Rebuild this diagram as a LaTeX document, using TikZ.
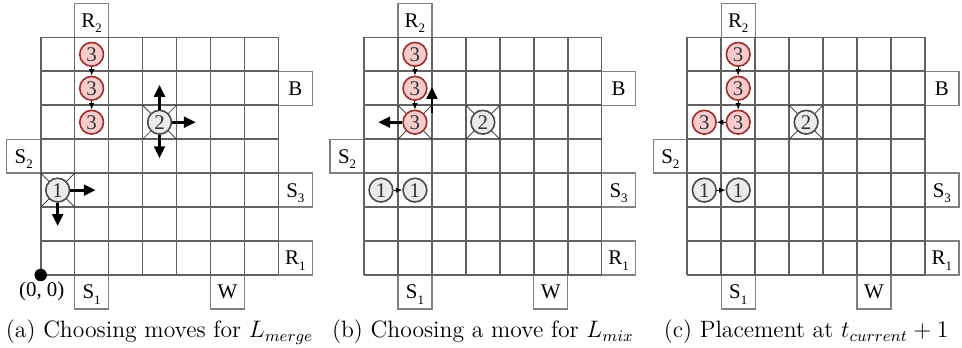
\documentclass[tikz,border=0pt]{standalone}
\usepackage{fontspec}
\newfontfamily\tms{Liberation Serif}
\usetikzlibrary{arrows.meta}
\definecolor{dropred}{HTML}{F8CCCC}
\definecolor{dropredline}{HTML}{9E2A2A}
\definecolor{dropgray}{HTML}{EBEBEB}
\definecolor{dropgrayline}{HTML}{4A4A4A}
\newcommand\lbl[2]{#1\raisebox{-2.8pt}{\fontsize{6.5}{6.5}\selectfont #2}}
\tikzset{
  gridline/.style={draw=black!62, line width=0.8pt},
  portbox/.style={draw=black!50, line width=0.65pt, minimum width=0.6cm, minimum height=0.6cm,
    inner sep=0pt, text depth=0pt, font=\tms\fontsize{10.5}{10.5}\selectfont},
  dropbase/.style={circle, line width=0.8pt, minimum size=0.42cm, inner sep=0pt,
    text=black!80, font=\tms\fontsize{10.5}{10.5}\selectfont},
  reddrop/.style={dropbase, draw=dropredline, fill=dropred},
  graydrop/.style={dropbase, draw=dropgrayline, fill=dropgray},
  thinarrow/.style={-{Latex[length=3.2pt,width=2.8pt]}, line width=0.5pt, draw=black},
  thickarrow/.style={-{Triangle[length=6pt,width=5.4pt]}, line width=1.4pt, draw=black},
  xmark/.style={draw=black!85, line width=0.35pt},
  captext/.style={anchor=base, font=\fontsize{11.9}{14}\selectfont},
}
\newcommand\board[1]{%
  \node[portbox] (#1R2) at (1.5,7.5) {\lbl{R}{2}};
  \node[portbox] (#1B)  at (7.5,5.5) {B};
  \node[portbox] (#1S2) at (-0.5,3.5) {\lbl{S}{2}};
  \node[portbox] (#1S3) at (7.5,2.5) {\lbl{S}{3}};
  \node[portbox] (#1R1) at (7.5,0.5) {\lbl{R}{1}};
  \node[portbox] (#1S1) at (1.5,-0.5) {\lbl{S}{1}};
  \node[portbox] (#1W)  at (5.5,-0.5) {W};
  \foreach \i in {0,...,7} {
    \draw[gridline] (\i,0) -- (\i,7);
    \draw[gridline] (0,\i) -- (7,\i);
  }
}
\begin{document}
\begin{tikzpicture}[x=0.6cm, y=0.6cm]
\useasboundingbox (-1.199,-2.150) rectangle (27.137,8.100);

% ---------- panel (a) ----------
\begin{scope}
  \board{a}
  \draw[xmark] (3,4) -- (4,5) (3,5) -- (4,4);
  \draw[xmark] (0,2) -- (1,3) (0,3) -- (1,2);
  \node[reddrop] (a3a) at (1.5,6.5) {3};
  \node[reddrop] (a3b) at (1.5,5.5) {3};
  \node[reddrop] (a3c) at (1.5,4.5) {3};
  \node[graydrop] (a2) at (3.5,4.5) {2};
  \node[graydrop] (a1) at (0.5,2.5) {1};
  \draw[thinarrow] (a3a) -- (a3b);
  \draw[thinarrow] (a3b) -- (a3c);
  \coordinate (a2u) at (3.5,5.6);
  \coordinate (a2r) at (4.57,4.5);
  \coordinate (a2d) at (3.5,3.44);
  \draw[thickarrow] (a2.north) -- (a2u);
  \draw[thickarrow] (a2.east) -- (a2r);
  \draw[thickarrow] (a2.south) -- (a2d);
  \coordinate (a1r) at (1.62,2.5);
  \coordinate (a1d) at (0.5,1.44);
  \draw[thickarrow] (a1.east) -- (a1r);
  \draw[thickarrow] (a1.south) -- (a1d);
  \node[circle, fill=black, minimum size=0.22cm, inner sep=0pt] (odot) at (0,0) {};
  \node[font=\tms\fontsize{10.5}{10.5}\selectfont] (orig) at (0.03,-0.49) {(0, 0)};
  \node[captext] (capa) at (3.5,-1.856) {(a) Choosing moves for $L_{merge}$};
\end{scope}

% ---------- panel (b) ----------
\begin{scope}[xshift=9.523*0.6cm]
  \board{b}
  \draw[xmark] (1,4) -- (2,5) (1,5) -- (2,4);
  \draw[xmark] (3,4) -- (4,5) (3,5) -- (4,4);
  \node[reddrop] (b3a) at (1.5,6.5) {3};
  \node[reddrop] (b3b) at (1.5,5.5) {3};
  \node[reddrop] (b3c) at (1.5,4.5) {3};
  \node[graydrop] (b2) at (3.5,4.5) {2};
  \node[graydrop] (b1a) at (0.5,2.5) {1};
  \node[graydrop] (b1b) at (1.5,2.5) {1};
  \draw[thinarrow] (b3a) -- (b3b);
  \draw[thinarrow] (b3b) -- (b3c);
  \draw[thinarrow] (b1a) -- (b1b);
  \coordinate (b3l) at (0.42,4.5);
  \draw[thickarrow] (b3c.west) -- (b3l);
  \coordinate (b3us) at (2.0,4.76);
  \coordinate (b3ue) at (2.0,5.54);
  \draw[thickarrow] (b3us) -- (b3ue);
  \node[captext] (capb) at (3.5,-1.856) {(b) Choosing a move for $L_{mix}$};
\end{scope}

% ---------- panel (c) ----------
\begin{scope}[xshift=19.045*0.6cm]
  \board{c}
  \draw[xmark] (3,4) -- (4,5) (3,5) -- (4,4);
  \node[reddrop] (c3a) at (1.5,6.5) {3};
  \node[reddrop] (c3b) at (1.5,5.5) {3};
  \node[reddrop] (c3c) at (1.5,4.5) {3};
  \node[reddrop] (c3d) at (0.5,4.5) {3};
  \node[graydrop] (c2) at (3.5,4.5) {2};
  \node[graydrop] (c1a) at (0.5,2.5) {1};
  \node[graydrop] (c1b) at (1.5,2.5) {1};
  \draw[thinarrow] (c3a) -- (c3b);
  \draw[thinarrow] (c3b) -- (c3c);
  \draw[thinarrow] (c3c) -- (c3d);
  \draw[thinarrow] (c1a) -- (c1b);
  \node[captext] (capc) at (3.5,-1.856) {(c) Placement at $t_{current}+1$};
\end{scope}
\end{tikzpicture}
\end{document}
